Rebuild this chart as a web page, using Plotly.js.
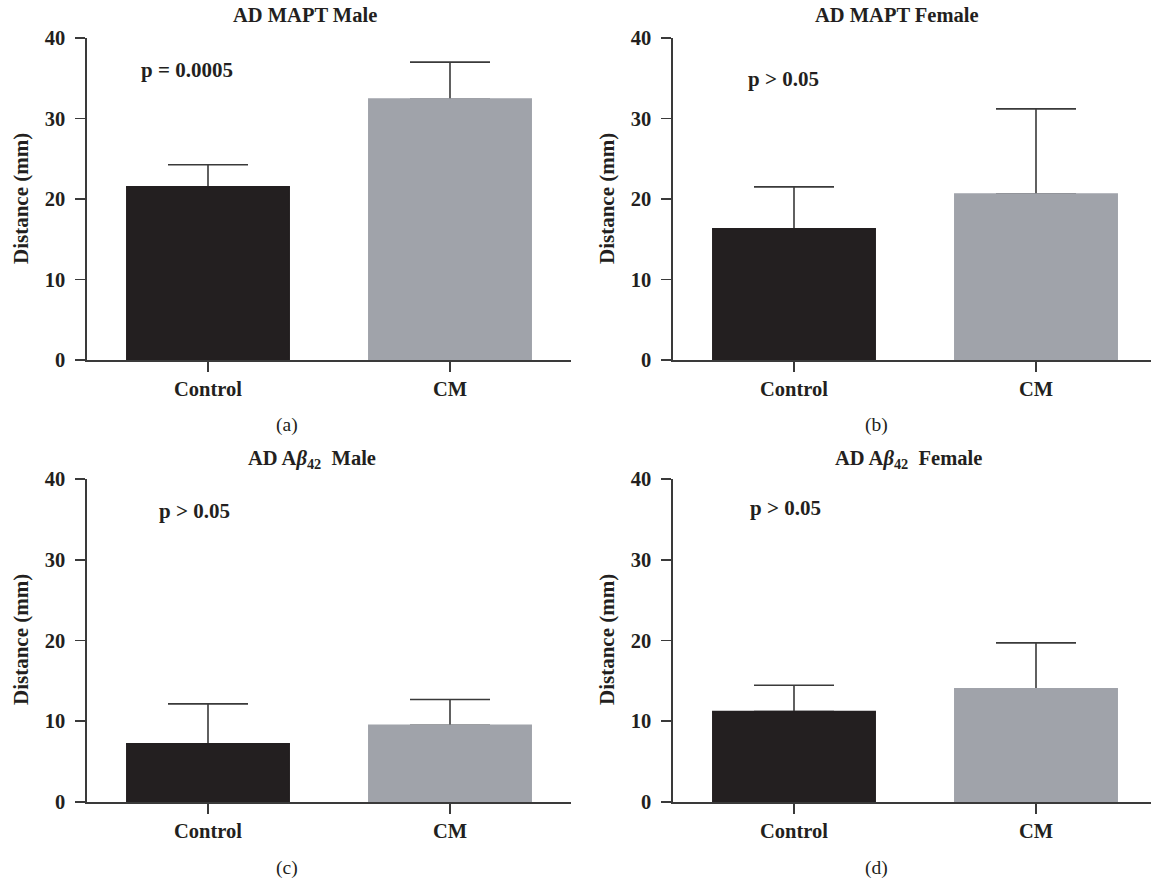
<!DOCTYPE html>
<html>
<head>
<meta charset="utf-8">
<script src="https://cdn.plot.ly/plotly-3.0.1.min.js"></script>
<style>html,body{margin:0;padding:0;background:#fff;}#chart{width:1151px;height:879px;}</style>
</head>
<body>
<div id="chart"></div>
<script>
// ---- data ----
const categories = ["Control", "CM"];
const maptMaleMean = [21.5, 32.4];
const maptMaleErr = [2.75, 4.6];
const maptFemaleMean = [16.3, 20.6];
const maptFemaleErr = [5.2, 10.6];
const abMaleMean = [7.2, 9.5];
const abMaleErr = [4.95, 3.2];
const abFemaleMean = [11.2, 14.0];
const abFemaleErr = [3.25, 5.7];
const yTicks = [0, 10, 20, 30, 40];
const panelTitles = ["AD MAPT Male", "AD MAPT Female", "AD A<i>β</i><sub>42</sub>  Male", "AD A<i>β</i><sub>42</sub>  Female"];
const pTexts = ["p = 0.0005", "p > 0.05", "p > 0.05", "p > 0.05"];
const panelLabels = ["(a)", "(b)", "(c)", "(d)"];
const yTitle = "Distance (mm)";

// ---- styling ----
const W = 1151, H = 879;
const px = x => x / W;
const py = y => 1 - y / H;
const FONT = "Liberation Serif, Times New Roman, serif";
const TXT = "#231f20";
const AX = "#3a3a3a";
const barColors = ["#231f20", "#a0a3aa"];

const panels = [
  {mean: maptMaleMean, err: maptMaleErr, x0: 87, x1: 571, yt: 38, yb: 360},
  {mean: maptFemaleMean, err: maptFemaleErr, x0: 673, x1: 1151, yt: 38, yb: 360},
  {mean: abMaleMean, err: abMaleErr, x0: 87, x1: 571, yt: 479, yb: 802},
  {mean: abFemaleMean, err: abFemaleErr, x0: 673, x1: 1151, yt: 479, yb: 802}
];
const titlePos = [[305, 15], [897, 15], [312, 459], [908, 459]];
const pPos = [[187, 70], [783, 79], [194, 511], [785, 508]];
const labelPos = [[287, 425], [876, 425], [287, 868], [876, 868]];
const yTitlePos = [[21, 199], [607, 199], [21, 640], [607, 640]];
const SPACING = 242;

const traces = [];
const layout = {
  width: W, height: H,
  margin: {l: 0, r: 0, t: 0, b: 0},
  paper_bgcolor: "#fff", plot_bgcolor: "#fff",
  showlegend: false, barmode: "overlay",
  font: {family: FONT, color: TXT, size: 20},
  annotations: []
};

panels.forEach((p, i) => {
  const n = i + 1;
  const xa = n === 1 ? "x" : "x" + n;
  const ya = n === 1 ? "y" : "y" + n;
  // error bars carried by a transparent bar trace, drawn underneath the visible bars
  traces.push({
    type: "bar", x: categories, y: p.mean, xaxis: xa, yaxis: ya,
    width: 0.67,
    marker: {color: "rgba(0,0,0,0)", line: {width: 0}},
    error_y: {type: "data", array: p.err, arrayminus: [0, 0], symmetric: false,
              color: AX, thickness: 1.6, width: 40},
    hoverinfo: "none"
  });
  traces.push({
    type: "bar", x: categories, y: p.mean, xaxis: xa, yaxis: ya,
    width: 0.67,
    marker: {color: barColors, line: {width: 1.8, color: barColors}},
    hoverinfo: "none"
  });
  const xRangeMax = -0.5 + (p.x1 - p.x0) / SPACING;
  layout["xaxis" + (n === 1 ? "" : n)] = {
    domain: [px(p.x0), px(p.x1)], anchor: ya,
    range: [-0.5, xRangeMax], type: "category",
    showline: true, linecolor: AX, linewidth: 1.6,
    ticks: "outside", ticklen: 10, tickwidth: 1.6, tickcolor: AX,
    showgrid: false, zeroline: false, fixedrange: true,
    tickfont: {family: FONT, size: 20.5, color: TXT, weight: "bold"}
  };
  layout["yaxis" + (n === 1 ? "" : n)] = {
    domain: [py(p.yb), py(p.yt)], anchor: xa,
    range: [0, 40], tickvals: yTicks, ticktext: yTicks.map(String),
    showline: true, linecolor: AX, linewidth: 1.6,
    ticks: "outside", ticklen: 10, tickwidth: 1.6, tickcolor: AX,
    ticklabelstandoff: 6,
    showgrid: false, zeroline: false, fixedrange: true,
    tickfont: {family: FONT, size: 20.5, color: TXT, weight: "bold"}
  };
  const ann = (text, pos, size, extra) => Object.assign({
    text: text, x: px(pos[0]), y: py(pos[1]), xref: "paper", yref: "paper",
    xanchor: "center", yanchor: "middle", showarrow: false,
    font: {family: FONT, size: size, color: TXT}
  }, extra || {});
  layout.annotations.push(ann("<b>" + panelTitles[i] + "</b>", titlePos[i], 20.5));
  layout.annotations.push(ann("<b>" + pTexts[i] + "</b>", pPos[i], 21));
  layout.annotations.push(ann(panelLabels[i], labelPos[i], 19.5));
  layout.annotations.push(ann("<b>" + yTitle + "</b>", yTitlePos[i], 21, {textangle: -90}));
});

Plotly.newPlot("chart", traces, layout, {staticPlot: true, displayModeBar: false});
</script>
</body>
</html>
